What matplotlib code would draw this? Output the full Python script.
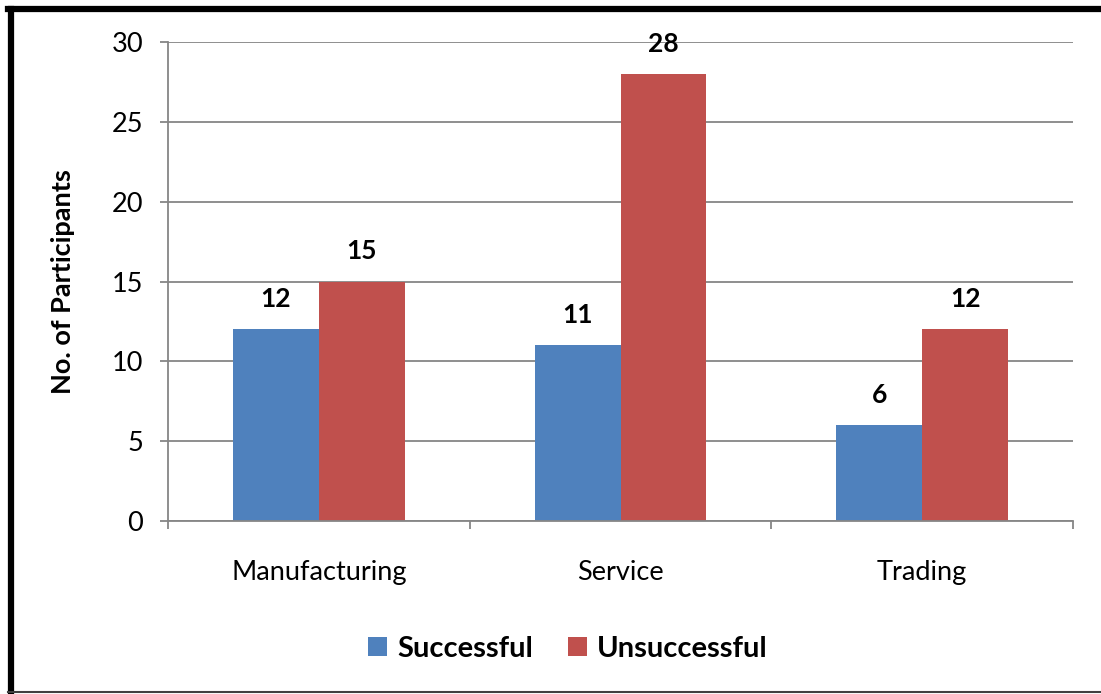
import matplotlib.pyplot as plt
import numpy as np
from matplotlib.lines import Line2D

# Chart data
categories = ["Manufacturing", "Service", "Trading"]
successful = [12, 11, 6]
unsuccessful = [15, 28, 12]
series_names = ["Successful", "Unsuccessful"]

BLUE = "#4F81BD"
RED = "#C0504D"
GRID = "#868686"

plt.rcParams['font.family'] = ['Lato', 'DejaVu Sans']

fig = plt.figure(figsize=(11.01, 6.94), dpi=100)
ax = fig.add_axes([168 / 1101, 1 - 521 / 694, (1073 - 168) / 1101, (521 - 42) / 694])

x = np.arange(len(categories))
w = 0.285
b1 = ax.bar(x - w / 2, successful, w, color=BLUE, label=series_names[0], zorder=3)
b2 = ax.bar(x + w / 2, unsuccessful, w, color=RED, label=series_names[1], zorder=3)

# value labels above bars
for bars in (b1, b2):
    for bar in bars:
        h = bar.get_height()
        ax.annotate(str(int(h)), (bar.get_x() + bar.get_width() / 2, h),
                    xytext=(0, 13), textcoords="offset points",
                    ha="center", va="bottom", fontsize=19, fontweight="bold")

ax.set_xlim(-0.5, 2.5)
ax.set_ylim(0, 30)
ax.set_yticks(range(0, 31, 5))
ax.yaxis.grid(True, color=GRID, linewidth=1.3, zorder=0)
ax.tick_params(axis="y", length=6, width=1.3, color=GRID, labelsize=19.5, pad=12)

ax.set_xticks(x)
ax.set_xticklabels(categories)
ax.tick_params(axis="x", which="major", length=0, labelsize=19.5, pad=28)
ax.set_xticks([-0.5, 0.5, 1.5, 2.5], minor=True)
ax.tick_params(axis="x", which="minor", length=6, width=1.3, color=GRID)

for side in ("top", "right"):
    ax.spines[side].set_visible(False)
for side in ("left", "bottom"):
    ax.spines[side].set_color(GRID)
    ax.spines[side].set_linewidth(1.3)
    ax.spines[side].set_zorder(4)

ax.set_ylabel("No. of Participants", fontsize=19.5, fontweight="bold", labelpad=26)

fig.legend(handles=[b1, b2], labels=series_names, loc="center",
           bbox_to_anchor=(568 / 1101, 1 - 649 / 694), ncol=2, frameon=False,
           prop={"size": 21, "weight": "bold"}, handlelength=0.65, handleheight=0.65,
           handletextpad=0.35, columnspacing=1.2)

# outer frame: thick black left/top, thin gray bottom
fig.add_artist(Line2D([11 / 1101, 11 / 1101], [0, 1 - 9 / 694], color="black",
                      linewidth=4.5, transform=fig.transFigure))
fig.add_artist(Line2D([8 / 1101, 1], [1 - 9 / 694, 1 - 9 / 694], color="black",
                      linewidth=4.5, transform=fig.transFigure))
fig.add_artist(Line2D([8 / 1101, 1], [1 - 692 / 694, 1 - 692 / 694], color="#404040",
                      linewidth=1.5, transform=fig.transFigure))

fig.savefig("out.png", dpi=100)
